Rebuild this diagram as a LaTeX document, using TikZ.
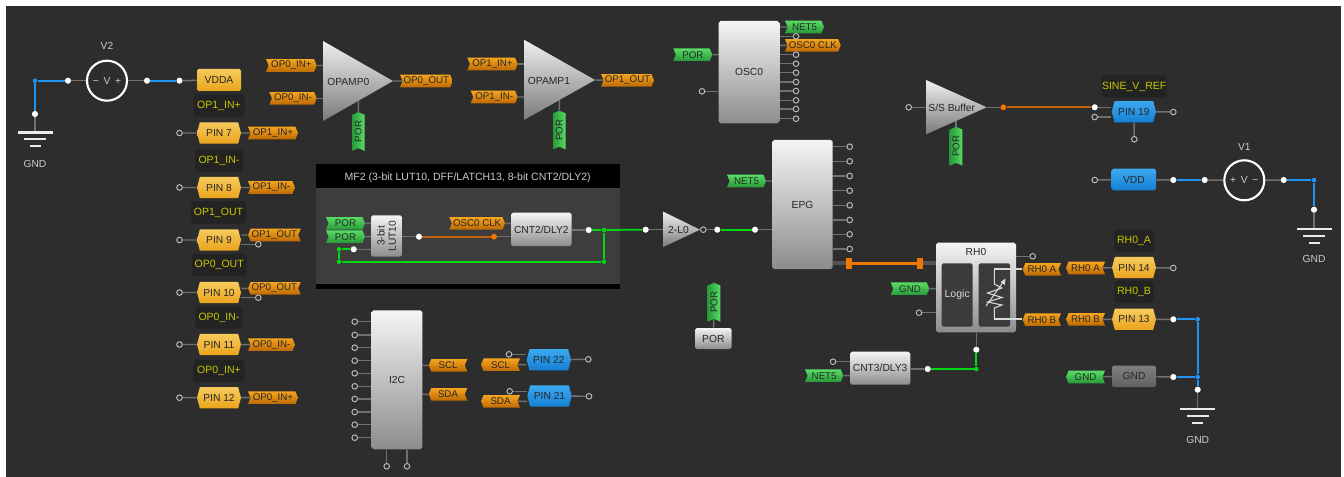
\documentclass[tikz,border=0pt]{standalone}
\usepackage{fontspec}
\setmainfont{Liberation Sans}
\usetikzlibrary{shapes.symbols}
\pgfdeclarelayer{bgl}
\pgfdeclarelayer{wirel}
\pgfsetlayers{bgl,wirel,main}
\definecolor{bgdark}{HTML}{2D2D2D}
\definecolor{labdark}{HTML}{232323}
\definecolor{wiregrey}{HTML}{707070}
\definecolor{netgreen}{HTML}{00D814}
\definecolor{netblue}{HTML}{2094F4}
\definecolor{netorange}{HTML}{C4600E}
\definecolor{junor}{HTML}{F07800}
\definecolor{ylw}{HTML}{C8C800}
\definecolor{tagoT}{HTML}{F4A41E}
\definecolor{tagoB}{HTML}{BE6A04}
\definecolor{taggT}{HTML}{58DC64}
\definecolor{taggB}{HTML}{289A3A}
\definecolor{pinyT}{HTML}{F6CB5C}
\definecolor{pinyB}{HTML}{EAA41C}
\definecolor{pinbT}{HTML}{3CA8F0}
\definecolor{pinbB}{HTML}{1480D4}
\tikzset{
  txt/.style={font=\fontsize{7.7pt}{9pt}\selectfont,text=black!85},
  wire/.style={draw=wiregrey,line width=1.1pt},
  greenw/.style={draw=netgreen,line width=1.3pt},
  bluew/.style={draw=netblue,line width=1.4pt},
  orangew/.style={draw=netorange,line width=1.3pt},
  whitew/.style={draw=white!85!black,line width=.8pt},
  openc/.style={circle,draw=white!72!black,fill=bgdark,line width=.75pt,inner sep=0pt,minimum size=4.2pt},
  wdot/.style={circle,fill=white,inner sep=0pt,minimum size=4.6pt},
  jblue/.style={circle,fill=netblue,inner sep=0pt,minimum size=3.4pt},
  jgreen/.style={circle,fill=netgreen,inner sep=0pt,minimum size=3.4pt},
  jorange/.style={circle,fill=junor,inner sep=0pt,minimum size=4.4pt},
  tagbase/.style={shape=signal,signal pointer angle=135,inner sep=0pt,minimum height=9.4pt,
    font=\fontsize{7.3pt}{9pt}\selectfont,text=black!85},
  orR/.style={tagbase,top color=tagoT,bottom color=tagoB,signal to=east,signal from=west},
  orL/.style={tagbase,top color=tagoT,bottom color=tagoB,signal to=west,signal from=east},
  grR/.style={tagbase,top color=taggT,bottom color=taggB,signal to=east,signal from=west},
  grL/.style={tagbase,top color=taggT,bottom color=taggB,signal to=west,signal from=east},
  grV/.style={tagbase,right color=taggT,left color=taggB,signal to=east,signal from=west,rotate=90,minimum width=29pt},
  pinbase/.style={shape=signal,signal to=east and west,signal from=nowhere,signal pointer angle=150,
    inner sep=0pt,minimum height=16pt,txt},
  pinY/.style={pinbase,top color=pinyT,bottom color=pinyB},
  pinB/.style={pinbase,top color=pinbT,bottom color=pinbB},
  rectY/.style={rectangle,rounded corners=1.2pt,txt,inner sep=0pt,top color=pinyT,bottom color=pinyB},
  rectB/.style={rectangle,rounded corners=1.2pt,txt,inner sep=0pt,top color=pinbT,bottom color=pinbB},
  rectG/.style={rectangle,rounded corners=1.2pt,txt,inner sep=0pt,top color=black!50,bottom color=black!62},
  blk/.style={rectangle,rounded corners=1.4pt,txt,inner sep=0pt,top color=white!96!black,bottom color=black!45},
  tri/.style={top color=white!94!black,bottom color=black!52},
  ylab/.style={rectangle,rounded corners=2.5pt,fill=labdark,text=ylw,inner sep=0pt,
    font=\fontsize{7.9pt}{9pt}\selectfont},
  plain/.style={font=\fontsize{7.7pt}{9pt}\selectfont,text=white!80!black,inner sep=0pt},
  vsrc/.style={circle,draw=white,line width=1.6pt,inner sep=0pt,minimum size=30pt,plain},
  gndbar/.style={fill=white!92!black},
}
\newcommand{\mytag}[6]{\node[#2,minimum width={(#4-#3)*0.75pt}] (#1) at ({(#3+#4)/2},#5) {#6};}
\newcommand{\mypin}[6]{\node[#2,minimum width={(#4-#3)*0.75pt}] (#1) at ({(#3+#4)/2},#5) {#6};}
\newcommand{\mybox}[7]{\node[#2,minimum width={(#4-#3)*0.75pt},minimum height={(#6-#5)*0.75pt}] (#1) at ({(#3+#4)/2},{(#5+#6)/2}) {#7};}
\newcommand{\mylab}[5]{\node[ylab,minimum width={(#3-#2)*0.75pt},minimum height=16.6pt] (#1) at ({(#2+#3)/2},#4) {#5};}
\newcommand{\mygnd}[3]{%
  \fill[gndbar] ({#2-17.5},{#3-1.1}) rectangle ({#2+17.5},{#3+1.1});
  \fill[gndbar] ({#2-11},{#3+6}) rectangle ({#2+11},{#3+8});
  \fill[gndbar] ({#2-5.5},{#3+13}) rectangle ({#2+5.5},{#3+15});
  \coordinate (#1) at (#2,#3);}
\begin{document}
\begin{tikzpicture}[x=0.75pt,y=-0.75pt]
\useasboundingbox (0,0) rectangle (1344,477);
\begin{pgfonlayer}{bgl}
  \fill[white] (0,0) rectangle (1344,477);
  \fill[bgdark] (5.5,6) rectangle (1341,477);
  \fill[black] (316,164.3) rectangle (620,289.3);
  \fill[white!24!black] (316,187.7) rectangle (620,284.3);
\end{pgfonlayer}

% === V2 and left column ===
\node[vsrc] (v2) at (107,80.7) {−\hspace{3.5pt}V\hspace{3.5pt}+};
\node[plain] (v2l) at (107,46) {V2};
\node[jblue] (j1) at (35,80.7) {};
\node[wdot] (d1) at (68,80.7) {};
\node[wdot] (d2) at (147,80.7) {};
\node[wdot] (d3) at (179.5,80.7) {};
\node[wdot] (d4) at (35,114) {};
\mygnd{g1}{35}{132.5}
\node[plain] (g1l) at (35,164) {GND};
\mybox{vdda}{rectY}{197}{241}{69}{91}{VDDA}

\mylab{l1}{193.5}{244.5}{105.5}{OP1\_IN+}
\mypin{p7}{pinY}{197}{241}{133}{PIN 7}
\node[openc] (c7) at (179.5,133) {};
\mytag{t7}{orR}{248}{298}{133}{OP1\_IN+}

\mylab{l2}{195}{243}{160.5}{OP1\_IN-}
\mypin{p8}{pinY}{197}{241}{187.5}{PIN 8}
\node[openc] (c8) at (179.5,187.5) {};
\mytag{t8}{orR}{248}{295}{187.5}{OP1\_IN-}

\mylab{l3}{191}{246}{212.5}{OP1\_OUT}
\mypin{p9}{pinY}{197}{241}{240}{PIN 9}
\node[openc] (c9) at (179.5,240) {};
\mytag{t9}{orL}{248}{300.7}{235}{OP1\_OUT}
\node[openc] (c9b) at (258.3,244.3) {};

\mylab{l4}{191.7}{246.7}{265}{OP0\_OUT}
\mypin{p10}{pinY}{197}{241}{292.5}{PIN 10}
\node[openc] (c10) at (179.5,292.5) {};
\mytag{t10}{orL}{248}{300.7}{288.3}{OP0\_OUT}
\node[openc] (c10b) at (258.3,297.7) {};

\mylab{l5}{195.3}{242.7}{317.5}{OP0\_IN-}
\mypin{p11}{pinY}{197}{241}{344.5}{PIN 11}
\node[openc] (c11) at (179.5,344.5) {};
\mytag{t11}{orR}{248}{295}{344.7}{OP0\_IN-}

\mylab{l6}{193.3}{244.7}{371}{OP0\_IN+}
\mypin{p12}{pinY}{197}{241}{397.7}{PIN 12}
\node[openc] (c12) at (179.5,397.7) {};
\mytag{t12}{orR}{248}{298}{397.7}{OP0\_IN+}

% === OPAMP0 ===
\path[tri] (323,41) -- (393,81) -- (323,121) -- cycle;
\coordinate (op0l) at (323,81);
\coordinate (op0r) at (393,81);
\coordinate (op0b) at (358.3,101);
\node[txt] (op0) at (348.3,82) {OPAMP0};
\mytag{t01}{orR}{266}{316.7}{65.5}{OP0\_IN+}
\mytag{t02}{orR}{269.3}{316.7}{98.3}{OP0\_IN-}
\mytag{t03}{orR}{400}{452.7}{81}{OP0\_OUT}
\node[grV] (por0) at (358.3,131.5) {POR};

% === OPAMP1 ===
\path[tri] (524,39.7) -- (595,80) -- (524,120) -- cycle;
\coordinate (op1l) at (524,80);
\coordinate (op1r) at (595,80);
\coordinate (op1b) at (559.3,100);
\node[txt] (op1) at (549,80.5) {OPAMP1};
\mytag{t11a}{orR}{467.3}{517.7}{64}{OP1\_IN+}
\mytag{t12a}{orR}{470.7}{517.7}{97}{OP1\_IN-}
\mytag{t13a}{orR}{601}{654}{80.3}{OP1\_OUT}
\node[grV] (por1) at (559.3,130) {POR};

% === OSC0 ===
\mybox{osc}{blk}{718.7}{779.3}{21}{123.3}{OSC0}
\mytag{net5a}{grR}{785}{824}{27}{NET5}
\mytag{oclk}{orR}{785}{840.7}{45.3}{OSC0 CLK}
\mytag{pos}{grR}{673.3}{712.3}{54.7}{POR}
\node[openc] (oscin) at (702,91.3) {};
\foreach \y [count=\i] in {36.3,54.7,63.7,72.7,82,91,100.3,109,118.7}
  \node[openc] (oo\i) at (796,\y) {};

% === MF2 ===
\node[plain,font=\fontsize{7.9pt}{9pt}\selectfont] (mft) at (467.7,177.3) {MF2 (3-bit LUT10, DFF/LATCH13, 8-bit CNT2/DLY2)};
\mytag{por2}{grR}{326}{365}{223.3}{POR}
\mytag{por3}{grR}{326}{365}{236.7}{POR}
\mybox{lut}{blk}{371}{402}{215.3}{256.7}{}
\node[txt,rotate=90,align=center,font=\fontsize{7.7pt}{8.4pt}\selectfont] (lutt) at (386.5,236) {3-bit\\LUT10};
\node[wdot] (dlut) at (419,236.7) {};
\node[jorange] (jor1) at (494,236.7) {};
\mytag{oclk2}{orR}{449.3}{505}{223.3}{OSC0 CLK}
\mybox{cnt2}{blk}{511}{571.7}{212.7}{246}{CNT2/DLY2}
\node[wdot] (dcnt) at (588.7,230) {};
\node[jgreen] (jg1) at (604,230) {};
\node[jgreen] (jg2) at (604,261.7) {};
\node[jgreen] (jg3) at (339,261.7) {};
\node[jgreen] (jg4) at (339,249.3) {};
\node[wdot] (dfb) at (353.7,249.3) {};

% === 2-L0 ===
\node[wdot] (d2l) at (645.7,229.7) {};
\path[tri] (663.3,211.7) -- (700,229.7) -- (663.3,247) -- cycle;
\coordinate (inv) at (663.3,229.7);
\node[txt] (invt) at (678.5,230) {2-L0};
\node[openc] (cinv) at (703.3,229.7) {};
\node[wdot] (dinv) at (717.3,229.7) {};
\node[wdot] (depg) at (755,229.7) {};

% === POR block ===
\mybox{porb}{blk}{695}{731.7}{328}{349}{POR}
\node[grV] (por4) at (714,302.2) {POR};

% === I2C ===
\mybox{i2c}{blk}{371.7}{422.3}{310.3}{449.3}{I2C}
\foreach \y [count=\i] in {321.7,335,347.7,360.7,373.3,386.3,399,412,424.7,437.7}
  \node[openc] (ii\i) at (354.7,\y) {};
\node[openc] (ib1) at (386.7,466.3) {};
\node[openc] (ib2) at (407,466.3) {};
\mytag{scl1}{orL}{428.7}{467.3}{365.3}{SCL}
\mytag{sda1}{orL}{428.7}{467.3}{394.3}{SDA}
\mytag{scl2}{orL}{481}{520}{364.7}{SCL}
\mytag{sda2}{orL}{481}{520}{401.3}{SDA}
\mypin{p22}{pinB}{526.7}{571}{359.8}{PIN 22}
\mypin{p21}{pinB}{527.3}{571.7}{396}{PIN 21}
\node[openc] (c22a) at (509,354.3) {};
\node[openc] (c22b) at (588.3,359.3) {};
\node[openc] (c21a) at (509.7,391.3) {};
\node[openc] (c21b) at (589,396.3) {};

% === EPG ===
\mybox{epg}{blk}{772.3}{832.7}{140}{269}{EPG}
\foreach \y [count=\i] in {146.7,161.3,176,190.7,205.3,220,234.3,249}
  \node[openc] (ee\i) at (849.7,\y) {};
\node[fill=junor,inner sep=0pt,minimum width=4.5pt,minimum height=8pt] (m1) at (849,263.3) {};
\node[fill=junor,inner sep=0pt,minimum width=4.5pt,minimum height=8pt] (m2) at (920,263.3) {};
\mytag{net5c}{grR}{727}{766}{181}{NET5}

% === S/S Buffer ===
\path[tri] (926,80) -- (986.7,107.3) -- (926,134.3) -- cycle;
\coordinate (ssl) at (926,107.3);
\coordinate (ssr) at (986.7,107.3);
\coordinate (ssb) at (956,121);
\node[txt] (sst) at (951.7,108) {S/S Buffer};
\node[openc] (cs1) at (908.7,107.3) {};
\node[jorange] (jor2) at (1003.3,107.3) {};
\node[wdot] (ds1) at (1094.7,107.3) {};
\node[openc] (cs2) at (1094.7,117) {};
\mypin{p19}{pinB}{1111.7}{1156}{111.7}{PIN 19}
\node[openc] (c19a) at (1173.3,112) {};
\node[openc] (c19b) at (1134.3,139.3) {};
\mylab{l19}{1101.7}{1166.7}{86.5}{SINE\_V\_REF}
\node[grV] (por5) at (956,146.2) {POR};

% === VDD / V1 ===
\mybox{vdd}{rectB}{1111.7}{1156}{168.7}{190.3}{VDD}
\node[openc] (cvd) at (1094.7,180) {};
\node[wdot] (dv1) at (1173.3,180) {};
\node[wdot] (dv2) at (1204.7,180) {};
\node[vsrc] (v1) at (1244.3,180.3) {+\hspace{3.5pt}V\hspace{3.5pt}−};
\node[plain] (v1l) at (1244.3,146.7) {V1};
\node[wdot] (dv3) at (1283.7,180) {};
\node[jblue] (j2) at (1314,180) {};
\node[wdot] (dv4) at (1314,209.7) {};
\mygnd{g2}{1314}{228.7}
\node[plain] (g2l) at (1314,259) {GND};

% === RH0 ===
\mybox{rh}{blk}{936}{1016}{242.7}{332.3}{}
\node[txt] (rht) at (976,252.3) {RH0};
\node[rectangle,rounded corners=1.2pt,fill=white!23!black,inner sep=0pt,minimum width=23.2pt,minimum height=47.5pt,
  text=white!85!black,font=\fontsize{7.9pt}{9pt}\selectfont] (rlog) at (957.2,295) {Logic};
\node[rectangle,rounded corners=1.2pt,fill=white!23!black,inner sep=0pt,minimum width=23.6pt,minimum height=47.5pt] (rres) at (994.3,295) {};
\node[openc] (crh) at (1032.7,256.3) {};
\mytag{ra1}{orL}{1022.7}{1061}{269.3}{RH0 A}
\mytag{ra2}{orL}{1066}{1105}{268}{RH0 A}
\mytag{rb1}{orL}{1022.7}{1061}{319.7}{RH0 B}
\mytag{rb2}{orL}{1066}{1105}{319.3}{RH0 B}
\mypin{p14}{pinY}{1112}{1156}{267.5}{PIN 14}
\mypin{p13}{pinY}{1112}{1156}{319.3}{PIN 13}
\mylab{l14}{1114}{1154}{240.7}{RH0\_A}
\mylab{l13}{1114.5}{1153.5}{292}{RH0\_B}
\node[openc] (c14) at (1173.3,268) {};
\node[wdot] (d13) at (1173.3,319.3) {};
\node[jblue] (j3) at (1197.7,319.3) {};
\node[jblue] (j4) at (1197.7,377) {};
\node[wdot] (d5) at (1197.7,389.7) {};
\node[wdot] (d6) at (1173.3,377) {};
\mybox{gndb}{rectG}{1112}{1156}{365.7}{387}{GND}
\mytag{gt1}{grL}{1066}{1105}{377}{GND}
\mygnd{g3}{1197.7}{408.7}
\node[plain] (g3l) at (1197.7,440) {GND};
\mytag{gt2}{grR}{890.7}{929.3}{288.7}{GND}
\node[openc] (crh2) at (919,312.7) {};
\node[wdot] (d7) at (976.3,349.7) {};
\node[jgreen] (j5) at (976.3,369) {};
\node[wdot] (d8) at (927.7,369) {};
\mybox{cnt3}{blk}{850}{910.3}{351.7}{384.7}{CNT3/DLY3}
\mytag{net5b}{grR}{805}{843.3}{375.7}{NET5}
\node[openc] (c3) at (833,361.7) {};

% resistor glyph
\coordinate (rt) at (994.3,269);
\coordinate (rb) at (994.3,319);
\draw[whitew,line join=miter] (rt) -- (994.3,284) -- (1002,288) -- (987.5,293) -- (1002,297.5) -- (987.5,302) -- (1002,305) -- (994.3,308) -- (rb);
\draw[whitew] (986,306) -- (1004,281);
\fill[white!85!black] (1005.5,278.5) -- (1005,285) -- (1000.5,282) -- cycle;
\draw[whitew] (rt) -- (rt -| ra1.west);
\draw[whitew] (rb) -- (rb -| rb1.west);

% === connectors ===
\begin{pgfonlayer}{wirel}
  \draw[bluew] (d1) -- (j1) -- (d4);
  \draw[wire] (d1) -- (v2);
  \draw[wire] (v2) -- (d2);
  \draw[bluew] (d2) -- (d3);
  \draw[wire] (d3) -- (vdda);
  \draw[wire] (d4) -- (g1);
  \foreach \a/\b in {c7/p7,c8/p8,c9/p9,c10/p10,c11/p11,c12/p12,p7/t7,p8/t8,p11/t11,p12/t12}
    \draw[wire] (\a) -- (\b);
  \draw[wire] (p9.east |- t9) -- (t9);
  \draw[wire] (c9b) -- (c9b -| p9.east);
  \draw[wire] (p10.east |- t10) -- (t10);
  \draw[wire] (c10b) -- (c10b -| p10.east);
  \draw[wire] (t01) -- (t01 -| op0l);
  \draw[wire] (t02) -- (t02 -| op0l);
  \draw[wire] (op0r) -- (t03);
  \draw[wire] (por0) -- (op0b);
  \draw[wire] (t11a) -- (t11a -| op1l);
  \draw[wire] (t12a) -- (t12a -| op1l);
  \draw[wire] (op1r) -- (t13a);
  \draw[wire] (por1) -- (op1b);
  \draw[wire] (net5a) -- (net5a -| osc.east);
  \draw[wire] (oclk) -- (oclk -| osc.east);
  \draw[wire] (pos) -- (pos -| osc.west);
  \draw[wire] (oscin) -- (oscin -| osc.west);
  \foreach \i in {1,...,9} \draw[wire] (oo\i) -- (oo\i -| osc.east);
  \draw[wire] (por2) -- (por2 -| lut.west);
  \draw[wire] (por3) -- (por3 -| lut.west);
  \draw[wire] (dfb) -- (dfb -| lut.west);
  \draw[wire] (dlut -| lut.east) -- (dlut);
  \draw[orangew] (dlut) -- (jor1);
  \draw[wire] (jor1) -- (jor1 -| cnt2.west);
  \draw[wire] (oclk2) -- (oclk2 -| cnt2.west);
  \draw[wire] (dcnt -| cnt2.east) -- (dcnt);
  \draw[greenw] (dcnt) -- (jg1);
  \draw[greenw] (jg1) -- (jg2);
  \draw[greenw] (jg2) -- (jg3);
  \draw[greenw] (jg3) -- (jg4);
  \draw[greenw] (jg4) -- (dfb);
  \draw[greenw] (jg1) -- (d2l);
  \draw[wire] (d2l) -- (inv);
  \draw[wire] (cinv) -- (dinv);
  \draw[greenw] (dinv) -- (depg);
  \draw[wire] (depg) -- (depg -| epg.west);
  \draw[wire] (net5c) -- (net5c -| epg.west);
  \draw[wire] (por4) -- (porb);
  \foreach \i in {1,...,10} \draw[wire] (ii\i) -- (ii\i -| i2c.west);
  \draw[wire] (ib1) -- (ib1 |- i2c.south);
  \draw[wire] (ib2) -- (ib2 |- i2c.south);
  \draw[wire] (scl1) -- (scl1 -| i2c.east);
  \draw[wire] (sda1) -- (sda1 -| i2c.east);
  \draw[wire] (scl2) -- (scl2 -| p22.west);
  \draw[wire] (sda2) -- (sda2 -| p21.west);
  \draw[wire] (c22a) -- (c22a -| p22.west);
  \draw[wire] (c21a) -- (c21a -| p21.west);
  \draw[wire] (p22) -- (c22b);
  \draw[wire] (p21) -- (c21b);
  \foreach \i in {1,...,8} \draw[wire] (ee\i) -- (ee\i -| epg.east);
  \draw[wiregrey!120!white,line width=3.2pt] (m1 -| epg.east) -- (m1);
  \draw[junor,line width=2.2pt] (m1) -- (m2);
  \draw[wiregrey!120!white,line width=3.2pt] (m2) -- (m2 -| rh.west);
  \draw[wire] (cs1) -- (ssl);
  \draw[wire] (ssr) -- (jor2);
  \draw[orangew] (jor2) -- (ds1);
  \draw[wire] (ds1) -- (ds1 -| p19.west);
  \draw[wire] (cs2) -- (cs2 -| p19.west);
  \draw[wire] (p19) -- (c19a);
  \draw[wire] (p19) -- (c19b);
  \draw[wire] (por5) -- (ssb);
  \draw[wire] (cvd) -- (vdd);
  \draw[wire] (vdd) -- (dv1);
  \draw[bluew] (dv1) -- (dv2);
  \draw[wire] (dv2) -- (v1);
  \draw[wire] (v1) -- (dv3);
  \draw[bluew] (dv3) -- (j2) -- (dv4);
  \draw[wire] (dv4) -- (g2);
  \draw[wire] (crh) -- (crh -| rh.east);
  \draw[wire] (ra2) -- (p14);
  \draw[wire] (rb2) -- (p13);
  \draw[wire] (p14) -- (c14);
  \draw[wire] (p13) -- (d13);
  \draw[bluew] (d13) -- (j3);
  \draw[bluew] (j3) -- (j4);
  \draw[bluew] (j4) -- (d5);
  \draw[bluew] (d6) -- (j4);
  \draw[wire] (gndb) -- (d6);
  \draw[wire] (gt1) -- (gndb);
  \draw[wire] (d5) -- (g3);
  \draw[wire] (gt2) -- (gt2 -| rh.west);
  \draw[wire] (crh2) -- (crh2 -| rh.west);
  \draw[wire] (rh.south -| d7) -- (d7);
  \draw[greenw] (d7) -- (j5);
  \draw[greenw] (j5) -- (d8);
  \draw[wire] (d8) -- (d8 -| cnt3.east);
  \draw[wire] (net5b) -- (net5b -| cnt3.west);
  \draw[wire] (c3) -- (c3 -| cnt3.west);
\end{pgfonlayer}
\end{tikzpicture}
\end{document}
